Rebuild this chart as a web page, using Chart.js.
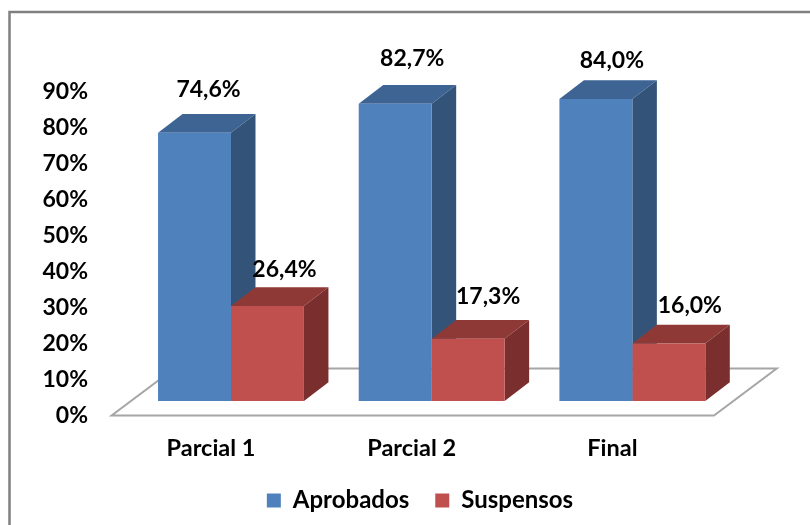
<!DOCTYPE html>
<html>
<head>
<meta charset="utf-8">
<script src="https://cdn.jsdelivr.net/npm/chart.js@4/dist/chart.umd.js"></script>
<style>
  html, body { margin: 0; padding: 0; background: #fff; }
  #wrap { position: relative; width: 810px; height: 525px; }
</style>
</head>
<body>
<div id="wrap"><canvas id="grades"></canvas></div>
<script>
const categories = ["Parcial 1", "Parcial 2", "Final"];
const aprobados = [74.6, 82.7, 84.0];
const suspensos = [26.4, 17.3, 16.0];
const yTicks = [0, 10, 20, 30, 40, 50, 60, 70, 80, 90];

// fake 3D depth of the bars and of the floor
const DEPTH_X = 24.5;
const DEPTH_Y = 18.7;
const FLOOR_X = 62.7;
const FLOOR_Y = 47;

const FONT = "Lato, 'Open Sans', sans-serif";

// hand placed value labels, relative to the top of the bar
const labelShift = [
  [[14, -43], [17, -45], [16, -38]],
  [[17, -36], [20, -42], [21, -38]],
];
const sideColors = [
  { top: "#3e6494", side: "#335478" },
  { top: "#8f3937", side: "#7a2f2e" },
];

function polygon(ctx, color, pts) {
  ctx.fillStyle = color;
  ctx.beginPath();
  pts.forEach((p, i) => (i ? ctx.lineTo(p[0], p[1]) : ctx.moveTo(p[0], p[1])));
  ctx.closePath();
  ctx.fill();
}

const fake3d = {
  id: "fake3d",
  beforeDraw(chart) {
    const ctx = chart.ctx;
    ctx.save();
    ctx.fillStyle = "#fff";
    ctx.fillRect(0, 0, chart.width, chart.height);
    // outer frame, only left and top are inside the picture
    ctx.strokeStyle = "#808080";
    ctx.lineWidth = 2.5;
    ctx.beginPath();
    ctx.moveTo(9.5, chart.height);
    ctx.lineTo(9.5, 12);
    ctx.lineTo(chart.width, 12);
    ctx.stroke();
    ctx.restore();
  },
  beforeDatasetsDraw(chart) {
    const ctx = chart.ctx;
    const area = chart.chartArea;
    const zero = chart.scales.y.getPixelForValue(0);
    const left = area.left - 19;
    const right = area.right - 18.7;
    ctx.save();
    ctx.strokeStyle = "#a6a6a6";
    ctx.lineWidth = 2;
    ctx.lineJoin = "miter";
    ctx.beginPath();
    ctx.moveTo(left, zero);
    ctx.lineTo(right, zero);
    ctx.lineTo(right + FLOOR_X, zero - FLOOR_Y);
    ctx.lineTo(left + FLOOR_X, zero - FLOOR_Y);
    ctx.closePath();
    ctx.stroke();

    chart.data.datasets.forEach((ds, i) => {
      chart.getDatasetMeta(i).data.forEach((bar) => {
        const l = bar.x - bar.width / 2;
        const r = bar.x + bar.width / 2;
        polygon(ctx, sideColors[i].top, [
          [l, bar.y],
          [r, bar.y],
          [r + DEPTH_X, bar.y - DEPTH_Y],
          [l + DEPTH_X, bar.y - DEPTH_Y],
        ]);
        polygon(ctx, sideColors[i].side, [
          [r, bar.y],
          [r + DEPTH_X, bar.y - DEPTH_Y],
          [r + DEPTH_X, bar.base - DEPTH_Y],
          [r, bar.base],
        ]);
      });
    });
    ctx.restore();
  },
  afterDatasetsDraw(chart) {
    const ctx = chart.ctx;
    ctx.save();
    ctx.fillStyle = "#000";
    ctx.font = "bold 23px " + FONT;
    ctx.textAlign = "center";
    ctx.textBaseline = "middle";
    chart.data.datasets.forEach((ds, i) => {
      chart.getDatasetMeta(i).data.forEach((bar, j) => {
        const text = ds.data[j].toFixed(1).replace(".", ",") + "%";
        ctx.fillText(text, bar.x + labelShift[i][j][0], bar.y + labelShift[i][j][1]);
      });
    });
    ctx.restore();
  },
};

const ctx = document.getElementById("grades").getContext("2d");
new Chart(ctx, {
  type: "bar",
  data: {
    labels: categories,
    datasets: [
      { label: "Aprobados", data: aprobados, backgroundColor: "#4f81bd", yAxisID: "yBars" },
      { label: "Suspensos", data: suspensos, backgroundColor: "#c0504d", yAxisID: "yBars" },
    ],
  },
  options: {
    responsive: true,
    maintainAspectRatio: false,
    animation: false,
    categoryPercentage: 0.727,
    barPercentage: 1,
    layout: { padding: { left: 30, right: 0, top: 92, bottom: 2.5 } },
    plugins: {
      tooltip: { enabled: false },
      legend: {
        position: "bottom",
        labels: {
          boxWidth: 14,
          boxHeight: 14,
          padding: 26,
          color: "#000",
          font: { family: FONT, size: 24, weight: "bold" },
        },
      },
    },
    scales: {
      x: {
        afterFit(scale) { scale.height = 47; },
        grid: { display: false, drawTicks: false },
        border: { display: false },
        ticks: {
          color: "#000",
          labelOffset: -20,
          padding: 19,
          maxRotation: 0,
          font: { family: FONT, size: 23.5, weight: "bold" },
        },
      },
      y: {
        min: 0,
        max: 90,
        afterFit(scale) { scale.width = 100.65; },
        afterBuildTicks(scale) { scale.ticks = yTicks.map((v) => ({ value: v })); },
        grid: { display: false, drawTicks: false },
        border: { display: false },
        ticks: {
          color: "#000",
          padding: 42.65,
          callback: (v) => v + "%",
          font: { family: FONT, size: 23, weight: "bold" },
        },
      },
      // bars stand on the floor, a bit above the axis zero.
      // sits on the right with no labels, it only keeps the room beside the plot
      yBars: {
        position: "right",
        min: -4.05,
        max: 85.95,
        afterFit(scale) { scale.width = 77.3; },
        grid: { display: false, drawTicks: false },
        border: { display: false },
        ticks: { display: false },
      },
    },
  },
  plugins: [fake3d],
});
</script>
</body>
</html>
